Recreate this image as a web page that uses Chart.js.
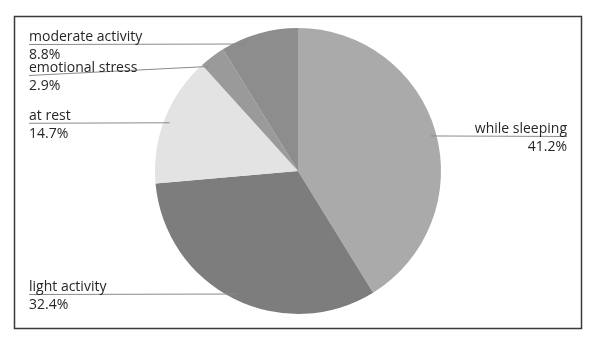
<!DOCTYPE html>
<html>
<head>
<meta charset="utf-8">
<script src="https://cdn.jsdelivr.net/npm/chart.js@4/dist/chart.umd.min.js"></script>
<style>
    html, body { margin: 0; padding: 0; background: #fff; }
    #wrap { width: 591px; height: 341px; position: relative; }
</style>
</head>
<body>
<div id="wrap"><canvas id="pieChart" width="591" height="341"></canvas></div>
<script>
// Data (clockwise from 12 o'clock)
const categories = ["while sleeping", "light activity", "at rest", "emotional stress", "moderate activity"];
const shares = [41.2, 32.4, 14.7, 2.9, 8.8];
const sliceColors = ["#aaaaaa", "#7d7d7d", "#e3e3e3", "#9a9a9a", "#8d8d8d"];

const FONT = "14px 'Open Sans', 'Noto Sans', sans-serif";

// Frame + leader-line labels
const labelPlugin = {
    id: "leaderLabels",
    beforeDraw(chart) {
        const ctx = chart.ctx;
        ctx.save();
        ctx.strokeStyle = "#3a3a3a";
        ctx.lineWidth = 1.5;
        ctx.strokeRect(14.5, 16.5, 567, 312);
        ctx.restore();
    },
    afterDraw(chart) {
        const ctx = chart.ctx;
        const meta = chart.getDatasetMeta(0);
        const minY = 44, maxY = 294, gap = 31;
        const left = [], right = [];

        meta.data.forEach((arc, i) => {
            const p = arc.getProps(["x", "y", "startAngle", "endAngle", "outerRadius"], true);
            const mid = (p.startAngle + p.endAngle) / 2;
            const mx = p.x + Math.cos(mid) * p.outerRadius;
            const my = p.y + Math.sin(mid) * p.outerRadius;
            const item = { i, p, y: my + 4, side: mx < p.x ? "left" : "right" };
            (item.side === "left" ? left : right).push(item);
        });

        [left, right].forEach(group => {
            group.sort((a, b) => a.y - b.y);
            group.forEach((it, k) => {
                it.y = Math.min(maxY, Math.max(minY, it.y));
                if (k > 0 && it.y < group[k - 1].y + gap) it.y = group[k - 1].y + gap;
            });
            for (let k = group.length - 1; k >= 0; k--) {
                const lim = k === group.length - 1 ? maxY : group[k + 1].y - gap;
                if (group[k].y > lim) group[k].y = lim;
            }
        });

        ctx.save();
        ctx.font = FONT;
        ctx.fillStyle = "#262626";
        ctx.strokeStyle = "#8a8a8a";
        ctx.lineWidth = 1;

        [...left, ...right].forEach(it => {
            const p = it.p;
            const R = p.outerRadius * 0.96;
            const dy = Math.max(-R, Math.min(R, it.y - p.y));
            const dx = Math.sqrt(R * R - dy * dy) * (it.side === "left" ? -1 : 1);
            // angle where the horizontal label line meets the pie
            let a = Math.atan2(dy, dx);
            const mid = (p.startAngle + p.endAngle) / 2;
            while (a < mid - Math.PI) a += Math.PI * 2;
            while (a > mid + Math.PI) a -= Math.PI * 2;
            const m = 0.03;
            const ang = Math.min(p.endAngle - m, Math.max(p.startAngle + m, a));
            const ax = p.x + Math.cos(ang) * R;
            const ay = p.y + Math.sin(ang) * R;
            const name = categories[it.i];
            const pct = shares[it.i].toFixed(1) + "%";

            ctx.beginPath();
            if (it.side === "left") {
                ctx.moveTo(29, it.y + 0.5);
                ctx.lineTo(ax, ay);
                ctx.stroke();
                ctx.textAlign = "left";
                ctx.fillText(name, 29, it.y - 3);
                ctx.fillText(pct, 29, it.y + 15);
            } else {
                ctx.moveTo(ax, ay);
                ctx.lineTo(567, it.y + 0.5);
                ctx.stroke();
                ctx.textAlign = "right";
                ctx.fillText(name, 567, it.y - 3);
                ctx.fillText(pct, 567, it.y + 15);
            }
        });
        ctx.restore();
    }
};

new Chart(document.getElementById("pieChart").getContext("2d"), {
    type: "pie",
    data: {
        labels: categories,
        datasets: [{
            data: shares,
            backgroundColor: sliceColors,
            borderWidth: 0
        }]
    },
    options: {
        responsive: false,
        animation: false,
        layout: { padding: { left: 155, right: 150, top: 28, bottom: 27 } },
        plugins: {
            legend: { display: false },
            tooltip: { enabled: false }
        }
    },
    plugins: [labelPlugin]
});
</script>
</body>
</html>
